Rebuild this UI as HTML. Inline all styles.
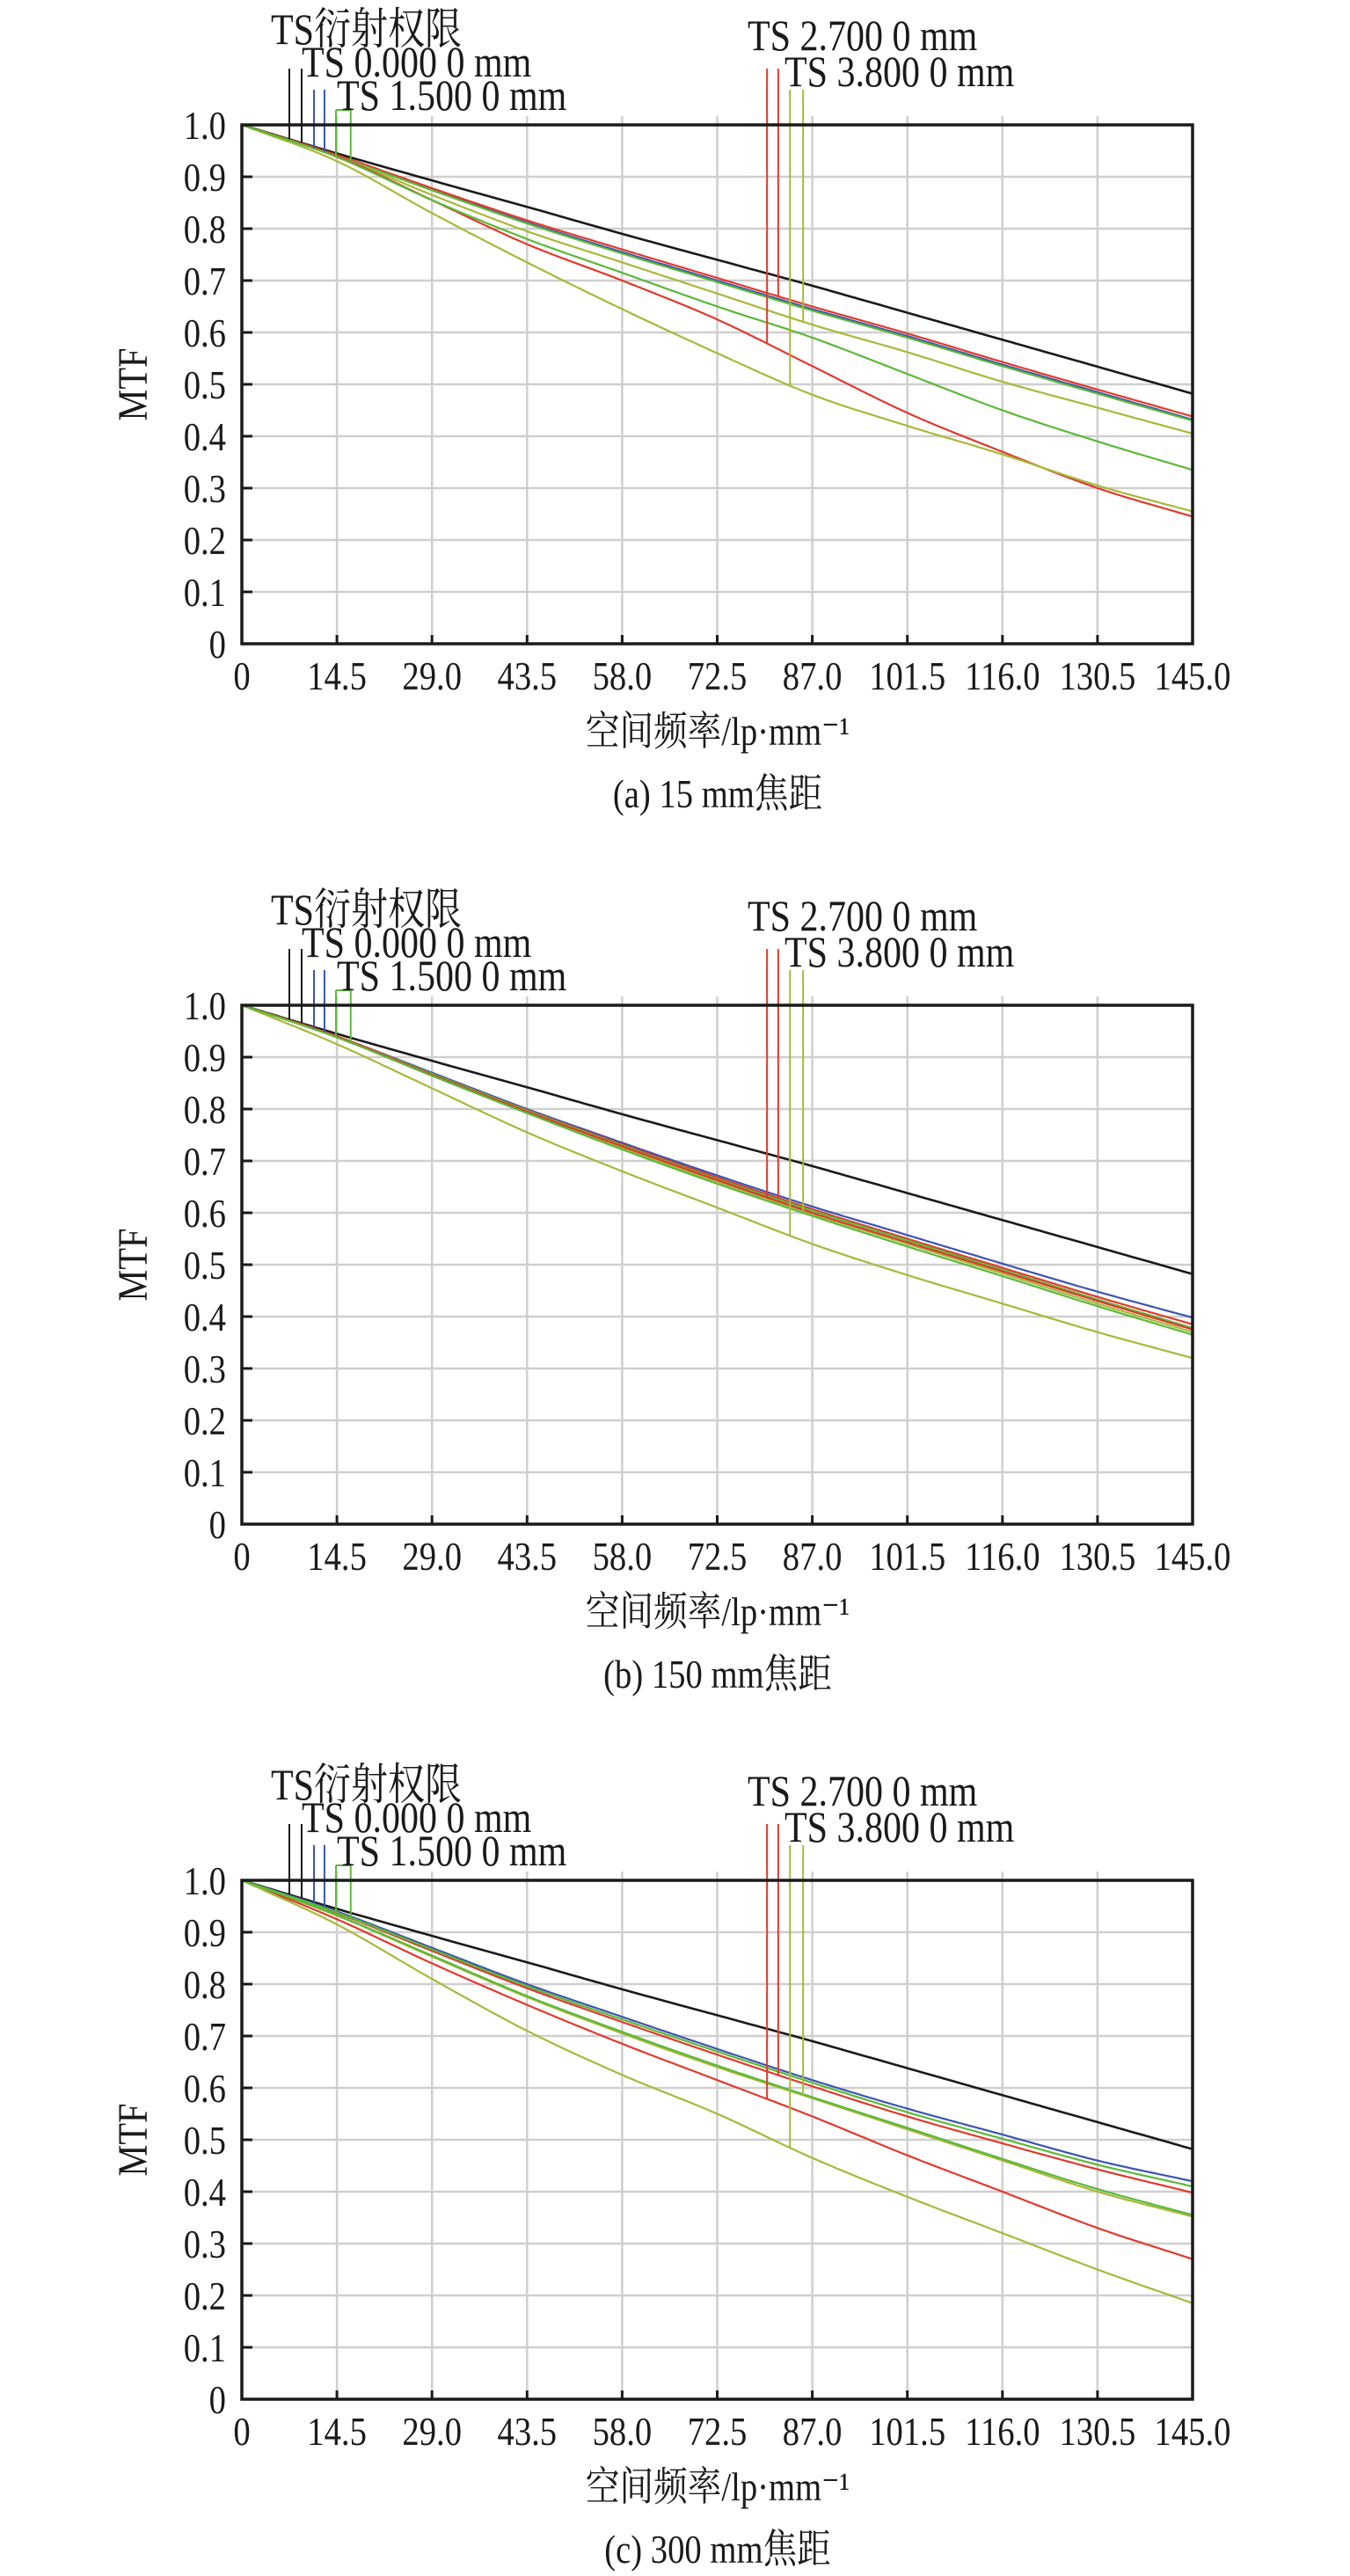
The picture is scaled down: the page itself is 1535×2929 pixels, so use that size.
<!DOCTYPE html>
<html><head><meta charset="utf-8">
<style>
html,body{margin:0;padding:0;background:#fff;}
svg{display:block;}
text{font-family:"Liberation Serif","Noto Serif CJK SC","Noto Sans CJK SC",serif;fill:#1a1a1a;}
</style></head>
<body>
<svg id="fig" width="1535" height="2929" viewBox="0 0 1535 2929" xmlns="http://www.w3.org/2000/svg"></svg>
<script>
// ---- data ----
const xTicks = [0,14.5,29,43.5,58,72.5,87,101.5,116,130.5,145];
const xTickLabels = ["0","14.5","29.0","43.5","58.0","72.5","87.0","101.5","116.0","130.5","145.0"];
const yTicks = [0,0.1,0.2,0.3,0.4,0.5,0.6,0.7,0.8,0.9,1.0];
const yTickLabels = ["0","0.1","0.2","0.3","0.4","0.5","0.6","0.7","0.8","0.9","1.0"];
const captions = ["(a) 15 mm焦距","(b) 150 mm焦距","(c) 300 mm焦距"];
const seriesColors = ["#1a1a1a","#3b55b0","#e03a2e","#5cb83a","#a8b83a","#e03a2e","#a8b83a","#5cb83a"];

// chart (a) series, values at xTicks
const a_diff   = [1,0.945,0.893,0.842,0.79,0.74,0.69,0.638,0.586,0.534,0.482];
const a_blue   = [1,0.94,0.875,0.812,0.755,0.70,0.645,0.593,0.538,0.485,0.432];
const a_redT   = [1,0.942,0.878,0.816,0.76,0.705,0.65,0.598,0.543,0.49,0.438];
const a_greenT = [1,0.94,0.874,0.81,0.752,0.697,0.642,0.59,0.535,0.482,0.43];
const a_oliveU = [1,0.94,0.865,0.795,0.735,0.675,0.615,0.562,0.505,0.455,0.405];
const a_redL   = [1,0.94,0.855,0.77,0.70,0.625,0.535,0.445,0.37,0.30,0.245];
const a_oliveL = [1,0.93,0.83,0.735,0.645,0.56,0.48,0.42,0.365,0.305,0.255];
const a_greenL = [1,0.938,0.855,0.78,0.715,0.65,0.59,0.52,0.45,0.39,0.335];

// chart (b)
const b_diff   = [1,0.945,0.893,0.842,0.79,0.74,0.69,0.638,0.586,0.534,0.482];
const b_blue   = [1,0.94,0.87,0.80,0.735,0.672,0.612,0.557,0.502,0.448,0.398];
const b_redT   = [1,0.94,0.868,0.798,0.732,0.668,0.607,0.55,0.494,0.438,0.385];
const b_greenT = [1,0.94,0.868,0.797,0.73,0.665,0.604,0.547,0.49,0.433,0.378];
const b_oliveU = [1,0.94,0.865,0.793,0.725,0.66,0.598,0.54,0.483,0.425,0.37];
const b_redL   = [1,0.94,0.866,0.795,0.728,0.663,0.6,0.543,0.487,0.43,0.375];
const b_oliveL = [1,0.925,0.84,0.755,0.68,0.61,0.54,0.48,0.425,0.37,0.32];
const b_greenL = [1,0.938,0.864,0.792,0.722,0.656,0.594,0.535,0.478,0.42,0.365];

// chart (c)
const c_diff   = [1,0.945,0.893,0.842,0.79,0.74,0.69,0.638,0.586,0.534,0.482];
const c_blue   = [1,0.94,0.87,0.80,0.737,0.675,0.615,0.56,0.51,0.46,0.42];
const c_redT   = [1,0.937,0.864,0.792,0.727,0.664,0.603,0.545,0.493,0.443,0.398];
const c_greenT = [1,0.938,0.867,0.796,0.732,0.67,0.61,0.553,0.502,0.452,0.41];
const c_oliveU = [1,0.932,0.853,0.775,0.705,0.64,0.58,0.52,0.46,0.40,0.352];
const c_redL   = [1,0.925,0.84,0.76,0.685,0.615,0.545,0.47,0.40,0.33,0.27];
const c_oliveL = [1,0.915,0.81,0.71,0.625,0.55,0.465,0.39,0.32,0.25,0.185];
const c_greenL = [1,0.933,0.855,0.777,0.708,0.643,0.582,0.523,0.463,0.405,0.355];

const chartsData = [
  [a_diff,a_blue,a_redT,a_greenT,a_oliveU,a_redL,a_oliveL,a_greenL],
  [b_diff,b_blue,b_redT,b_greenT,b_oliveU,b_redL,b_oliveL,b_greenL],
  [c_diff,c_blue,c_redT,c_greenT,c_oliveU,c_redL,c_oliveL,c_greenL]
];
const seriesNames = ["diffraction-limit","ts-0-blue","ts-red-t","ts-green-t","ts-olive-upper","ts-red-lower","ts-olive-lower","ts-green-lower"];

// ---- drawing ----
const NS = "http://www.w3.org/2000/svg";
const svg = document.getElementById("fig");
const offsets = [0,1001,1996];
const L = 275, R = 1356, T0 = 142, H = 590;
const SX = 0.84;
function mk(tag, attrs, parent){
  const e = document.createElementNS(NS, tag);
  for (const k in attrs) e.setAttribute(k, attrs[k]);
  parent.appendChild(e);
  return e;
}
function slope(arr, i){
  const n = arr.length, h = xTicks[1]-xTicks[0];
  if (i===0) return (arr[1]-arr[0])/h;
  if (i===n-1) return (arr[n-1]-arr[n-2])/h;
  return (arr[i+1]-arr[i-1])/(2*h);
}
function interp(arr, x){
  for (let i=0;i<xTicks.length-1;i++){
    if (x>=xTicks[i] && x<=xTicks[i+1]){
      const h = xTicks[i+1]-xTicks[i];
      const t=(x-xTicks[i])/h;
      const t2=t*t, t3=t2*t;
      return (2*t3-3*t2+1)*arr[i] + (t3-2*t2+t)*h*slope(arr,i) + (-2*t3+3*t2)*arr[i+1] + (t3-t2)*h*slope(arr,i+1);
    }
  }
  return arr[arr.length-1];
}
function txt(g, s, x, y, size, anchor, name){
  const t = mk("text", {x:0,y:0,"font-size":size,"text-anchor":anchor,transform:`translate(${x},${y}) scale(${SX},1)`}, g);
  t.textContent = s;
  
  
  return t;
}

chartsData.forEach((series, ci) => {
  const oy = offsets[ci];
  const T = T0 + oy, B = T + H;
  const sx = v => L + (v/145)*(R-L);
  const sy = v => B - v*H;
  const g = mk("g", {}, svg);
  
  

  xTicks.forEach((v,i) => {
    if (i===0 || i===xTicks.length-1) return;
    const ln = mk("line", {x1:sx(v),x2:sx(v),y1:T-10,y2:B,stroke:"#cfcfcf","stroke-width":2.5}, g);
    
    
  });
  yTicks.forEach((v,i) => {
    if (i===0 || i===yTicks.length-1) return;
    const ln = mk("line", {x1:L,x2:R,y1:sy(v),y2:sy(v),stroke:"#cfcfcf","stroke-width":2.5}, g);
    
    
  });

  series.forEach((arr, si) => {
    const pts = [];
    for (let k=0; k<=200; k++){ const x = 145*k/200; pts.push(sx(x).toFixed(1)+","+sy(interp(arr,x)).toFixed(1)); }
    const pl = mk("polyline", {points:pts.join(" "),fill:"none",stroke:seriesColors[si],"stroke-width":si===0?2.6:2.2}, g);
    
    
  });

  const marks = [
    [7.24,"#1a1a1a",78,0],[9.12,"#1a1a1a",78,0],
    [11.0,"#3b55b0",102,1],[12.6,"#3b55b0",102,1],
    [14.35,"#5cb83a",125,3],[16.6,"#5cb83a",125,3],
    [80.1,"#e03a2e",78,5],[81.8,"#e03a2e",78,2],
    [83.6,"#a8b83a",102,6],[85.6,"#a8b83a",102,4]
  ];
  marks.forEach(m => {
    const x = sx(m[0]);
    const ln = mk("line", {x1:x,x2:x,y1:m[2]+oy,y2:sy(interp(series[m[3]],m[0])),stroke:m[1],"stroke-width":2}, g);
    
    
  });
  const gt = mk("line", {x1:sx(14.35),x2:sx(16.6),y1:125+oy,y2:125+oy,stroke:"#5cb83a","stroke-width":2}, g);
  
  

  const fr = mk("path", {d:`M${L},${B} L${L},${T} L${R},${T} L${R},${B} Z`,fill:"none",stroke:"#1a1a1a","stroke-width":3.5}, g);
  
  

  xTicks.forEach((v,i) => {
    const tk = mk("line", {x1:sx(v),x2:sx(v),y1:B,y2:B-10,stroke:"#1a1a1a","stroke-width":3}, g);
    
    
    txt(g, xTickLabels[i], sx(v), B+52, 46, "middle", 'x-tick-label');
  });
  yTicks.forEach((v,i) => {
    const tk = mk("line", {x1:L,x2:L+12,y1:sy(v),y2:sy(v),stroke:"#1a1a1a","stroke-width":3}, g);
    
    
    txt(g, yTickLabels[i], L-18, sy(v)+16, 46, "end", 'y-tick-label');
  });

  const leg = [
    ["TS衍射权限",308,50],["TS 0.000 0 mm",343,87],["TS 1.500 0 mm",383,125],
    ["TS 2.700 0 mm",850,57],["TS 3.800 0 mm",892,98]
  ];
  leg.forEach(l => { txt(g, l[0], l[1], l[2]+oy, 50, "start", 'legend-label'); });

  const yt = mk("text", {x:0,y:0,"text-anchor":"middle","font-size":48,transform:`translate(167,${T+H/2}) rotate(-90) scale(${SX},1)`}, g);
  yt.textContent = "MTF";
  
  
  txt(g, "空间频率/lp·mm⁻¹", 816, 847+oy, 46, "middle", 'x-axis-title');
  txt(g, captions[ci], 816, 918+oy, 46, "middle", 'chart-caption');
});
</script>
</body></html>
